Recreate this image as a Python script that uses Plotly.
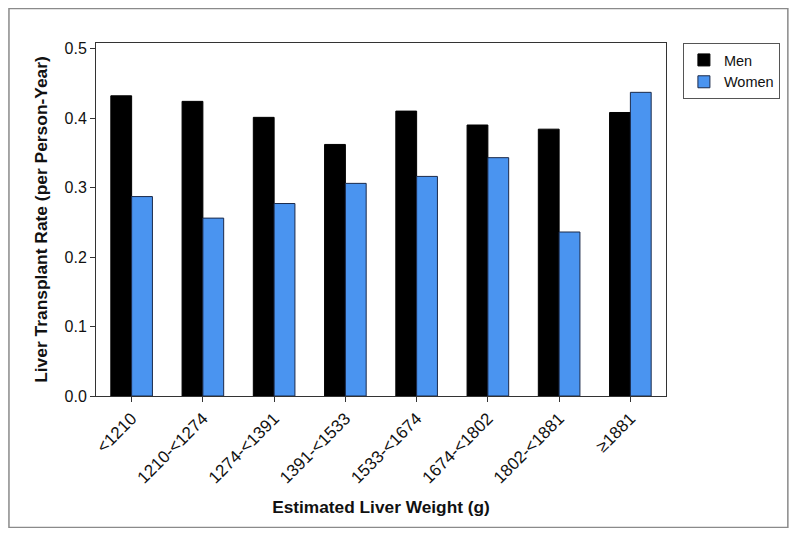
import plotly.graph_objects as go

categories = ["<1210", "1210-<1274", "1274-<1391", "1391-<1533",
              "1533-<1674", "1674-<1802", "1802-<1881", "≥1881"]
men = [0.432, 0.424, 0.401, 0.362, 0.410, 0.390, 0.384, 0.408]
women = [0.287, 0.256, 0.277, 0.306, 0.316, 0.343, 0.236, 0.437]
y_ticks = [0.0, 0.1, 0.2, 0.3, 0.4, 0.5]

# page body has an 8px margin; compensate so the figure lands like the reference
OFF = 8
W, H = 800 - 2 * OFF, 536 - 2 * OFF
L, R, T, B = 96 - OFF, 131 - OFF, 43 - OFF, 140 - OFF
pw, ph = W - L - R, H - T - B

def px(x):
    return (x - OFF - L) / pw

def py(y):
    return (H - B - (y - OFF)) / ph

fig = go.Figure()
fig.add_trace(go.Bar(x=categories, y=men, name="Men",
                     marker=dict(color="#000000", line=dict(color="#000000", width=1))))
fig.add_trace(go.Bar(x=categories, y=women, name="Women",
                     marker=dict(color="#4A94F0", line=dict(color="#1B2A4A", width=1))))

font = "Liberation Sans, Arial, sans-serif"
fig.update_layout(
    width=W, height=H,
    margin=dict(l=L, r=R, t=T, b=B, pad=0),
    paper_bgcolor="white", plot_bgcolor="white",
    barmode="group", bargap=0.416, bargroupgap=0,
    font=dict(family=font, color="#111111", size=15),
    legend=dict(x=px(686), y=1.0, xanchor="left", yanchor="top",
                bordercolor="#555555", borderwidth=1, bgcolor="white",
                font=dict(size=14.5), tracegroupgap=0, itemwidth=30),
    showlegend=True,
    xaxis=dict(
        range=[-0.5, 7.5], showline=True, linecolor="#333333", linewidth=1,
        mirror=True, ticks="outside", ticklen=5, tickcolor="#333333",
        tickangle=-45, tickfont=dict(size=17), showgrid=False,
        title=dict(text="<b>Estimated Liver Weight (g)</b>", font=dict(size=17.3), standoff=14),
    ),
    yaxis=dict(
        range=[0, 0.508], tickvals=y_ticks, ticktext=[f"{v:.1f}" for v in y_ticks],
        showline=True, linecolor="#333333", linewidth=1, mirror=True,
        ticks="outside", ticklen=5, tickcolor="#333333", tickfont=dict(size=16),
        showgrid=False, zeroline=False,
        title=dict(text="<b>Liver Transplant Rate (per Person-Year)</b>", font=dict(size=17.4), standoff=12),
    ),
)

fig.add_shape(type="rect", xref="paper", yref="paper",
              x0=px(8.5), x1=px(791.5), y0=py(527.5), y1=py(8.5),
              line=dict(color="#8a8a8a", width=1.5), layer="below")

fig.write_html("out.html")
